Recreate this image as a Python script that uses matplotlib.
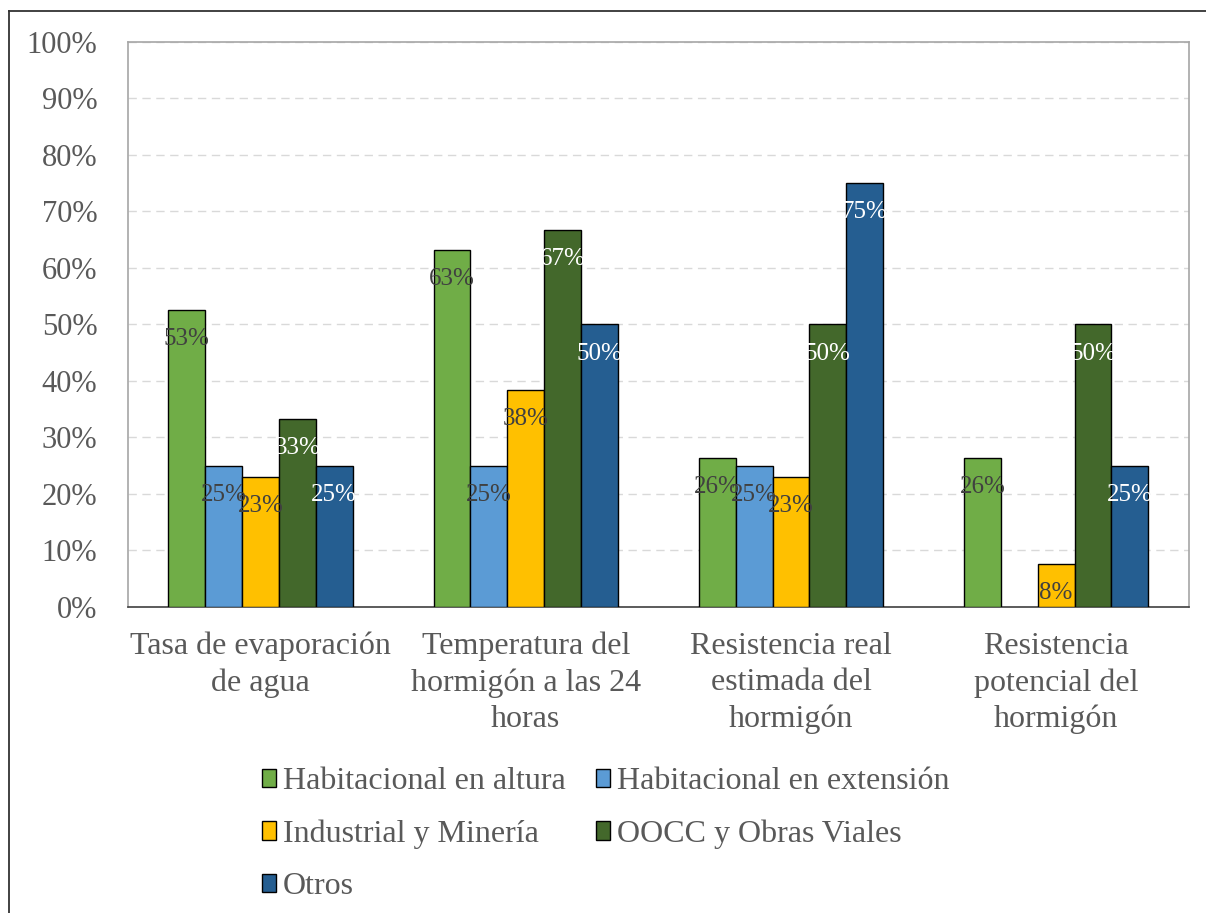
import matplotlib.pyplot as plt
import numpy as np
from matplotlib.lines import Line2D

plt.rcParams['font.family'] = ['Liberation Serif', 'DejaVu Serif']

# categories and share of works per sector (%)
categories = ['Tasa de evaporación\nde agua',
              'Temperatura del\nhormigón a las 24\nhoras',
              'Resistencia real\nestimada del\nhormigón',
              'Resistencia\npotencial del\nhormigón']

series = ['Habitacional en altura', 'Habitacional en extensión',
          'Industrial y Minería', 'OOCC y Obras Viales', 'Otros']

hab_altura = [52.63, 63.16, 26.32, 26.32]
hab_extension = [25.0, 25.0, 25.0, np.nan]
industrial = [23.08, 38.46, 23.08, 7.69]
oocc = [33.33, 66.67, 50.0, 50.0]
otros = [25.0, 50.0, 75.0, 25.0]

values = [hab_altura, hab_extension, industrial, oocc, otros]
colors = ['#70ad47', '#5b9bd5', '#ffc000', '#43682b', '#255e91']
label_colors = ['#404040', '#404040', '#404040', 'white', 'white']

fig = plt.figure(figsize=(12.06, 9.13), dpi=100)
ax = fig.add_axes([0.1061, 0.3352, 0.8796, 0.6188])

x = np.arange(len(categories))
w = 0.139
bars = []
for j, (vals, col, lcol) in enumerate(zip(values, colors, label_colors)):
    b = ax.bar(x + (j - 2) * w, vals, w, color=col, edgecolor='black',
               linewidth=1.0, label=series[j], zorder=3)
    bars.append(b)
    for rect, v in zip(b, vals):
        if np.isnan(v):
            continue
        ax.annotate('{:.0f}%'.format(v),
                    (rect.get_x() + rect.get_width() / 2, v),
                    xytext=(0, -13), textcoords='offset points',
                    ha='center', va='top', fontsize=18, color=lcol, zorder=4)

ax.set_xlim(-0.5, 3.5)
ax.set_ylim(0, 100)
ax.set_yticks(np.arange(0, 101, 10))
ax.set_yticklabels(['{}%'.format(t) for t in range(0, 101, 10)])
ax.set_xticks(x)
ax.set_xticklabels(categories, linespacing=1.32)
ax.tick_params(axis='y', length=0, pad=22, labelsize=22, labelcolor='#595959')
ax.tick_params(axis='x', length=0, pad=18, labelsize=23, labelcolor='#595959')
ax.yaxis.grid(True, color='#d9d9d9', linestyle=(0, (6, 4)), linewidth=1.0, zorder=0)

for s in ['left', 'top', 'right']:
    ax.spines[s].set_color('#a6a6a6')
    ax.spines[s].set_linewidth(1.2)
ax.spines['bottom'].set_color('#404040')
ax.spines['bottom'].set_linewidth(1.2)

# legend filled row by row
order = [0, 2, 4, 1, 3]
handles = [bars[i] for i in order]
labels = [series[i] for i in order]
fig.legend(handles, labels, loc='upper left',
           bbox_to_anchor=(262 / 1206, 1 - 767 / 913), ncol=2, frameon=False,
           fontsize=23, labelcolor='#595959', handlelength=0.44,
           handleheight=0.5, handletextpad=0.22, columnspacing=0.95,
           labelspacing=0.73, borderpad=0, borderaxespad=0)

# outer border (left and top edges)
fig.add_artist(Line2D([8.5 / 1206, 8.5 / 1206], [0, 1 - 11 / 913],
                      transform=fig.transFigure, color='#333333', lw=1.3))
fig.add_artist(Line2D([8.5 / 1206, 1], [1 - 11 / 913, 1 - 11 / 913],
                      transform=fig.transFigure, color='#333333', lw=1.3))

plt.savefig('out.png', dpi=100)
